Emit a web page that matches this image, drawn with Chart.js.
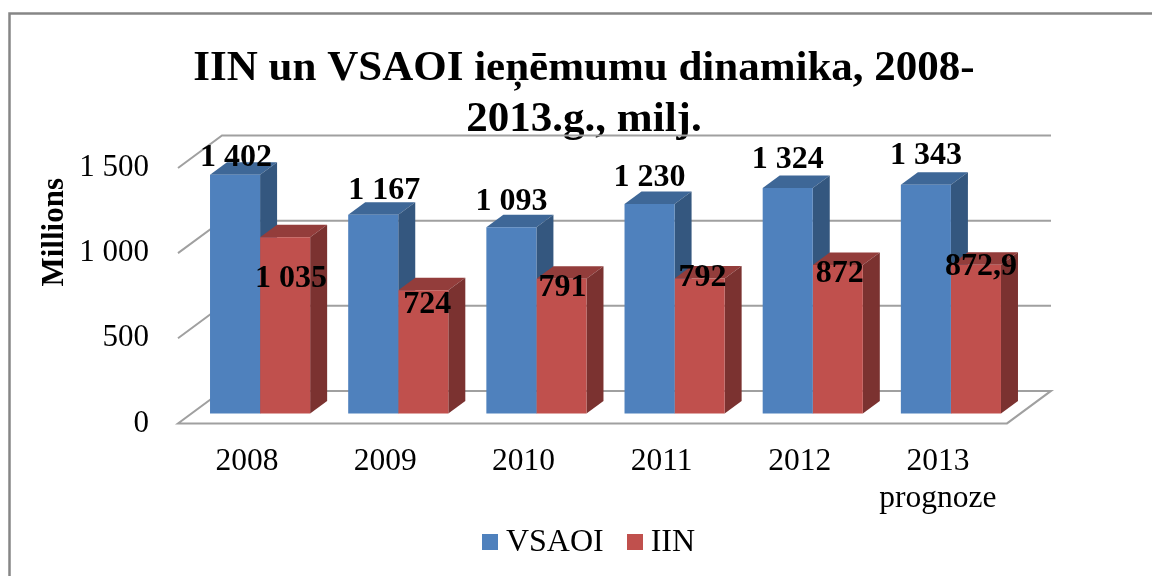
<!DOCTYPE html>
<html>
<head>
<meta charset="utf-8">
<style>html,body{margin:0;padding:0;background:#fff}canvas{display:block}</style>
<script src="https://cdn.jsdelivr.net/npm/chart.js@4"></script>
</head>
<body>
<canvas id="c" width="1152" height="576"></canvas>
<script>
const categories = ['2008', '2009', '2010', '2011', '2012', ['2013', 'prognoze']];
const vsaoi = [1402, 1167, 1093, 1230, 1324, 1343];
const iin = [1035, 724, 791, 792, 872, 872.9];
const titleLines = ['IIN un VSAOI ieņēmumu dinamika, 2008-', '2013.g., milj.'];

const SERIF = '"Liberation Serif"';
const COLORS = ['#4f81bd', '#c0504d'];
// Perspective of the 3D look, in pixels
const wall = {dx: 44, dy: -32.5};
const barShift = {dx: 13, dy: -10};
const barDepth = {dx: 17, dy: -12.5};
const faces = [
  {top: '#3e6797', side: '#34577f'},
  {top: '#933d3b', side: '#7b3230'}
];
// Manual label placement relative to the top centre of each bar's front face
const labelNudge = [
  [[1, -17], [11, -23.5], [0, -26], [0, -26], [0, -28], [0, -29]],
  [[6, 42], [4, 15], [1, 9], [3, -1], [2, 9], [5, 2]]
];

function fmt(v) {
  const s = String(v).replace('.', ',');
  const parts = s.split(',');
  const i = parts[0].length > 3 ? parts[0].slice(0, -3) + ' ' + parts[0].slice(-3) : parts[0];
  return parts[1] ? i + ',' + parts[1] : i;
}

function swatch(color) {
  const k = document.createElement('canvas');
  k.width = 16;
  k.height = 16;
  const x = k.getContext('2d');
  x.fillStyle = color;
  x.fillRect(0, 0, 16, 16);
  return k;
}
const swatches = COLORS.map(swatch);

const frame = {
  id: 'frame',
  beforeDraw(chart) {
    const c = chart.ctx;
    c.save();
    c.strokeStyle = '#868686';
    c.lineWidth = 2.5;
    c.beginPath();
    c.moveTo(9.5, 576);
    c.lineTo(9.5, 13.5);
    c.lineTo(1152, 13.5);
    c.stroke();
    c.restore();
  }
};

const walls = {
  id: 'walls',
  beforeDatasetsDraw(chart) {
    const c = chart.ctx, y = chart.scales.y, a = chart.chartArea;
    c.save();
    c.strokeStyle = '#a0a0a0';
    c.lineWidth = 2;
    y.ticks.forEach(t => {
      const py = y.getPixelForValue(t.value);
      c.beginPath();
      if (t.value === 0) {
        c.moveTo(a.left, py);
        c.lineTo(a.right, py);
        c.lineTo(a.right + wall.dx, py + wall.dy);
        c.lineTo(a.left + wall.dx, py + wall.dy);
        c.closePath();
      } else {
        c.moveTo(a.left, py);
        c.lineTo(a.left + wall.dx, py + wall.dy);
        c.lineTo(a.right + wall.dx, py + wall.dy);
      }
      c.stroke();
    });
    c.restore();
  }
};

const depth = {
  id: 'depth',
  beforeDatasetsDraw(chart) {
    const c = chart.ctx;
    c.save();
    c.translate(barShift.dx, barShift.dy);
    [0, 1].forEach(i => {
      const f = faces[i];
      chart.getDatasetMeta(i).data.forEach(b => {
        const l = b.x - b.width / 2, r = b.x + b.width / 2, t = b.y, bot = b.base;
        c.fillStyle = f.top;
        c.beginPath();
        c.moveTo(l, t);
        c.lineTo(l + barDepth.dx, t + barDepth.dy);
        c.lineTo(r + barDepth.dx, t + barDepth.dy);
        c.lineTo(r, t);
        c.closePath();
        c.fill();
        c.fillStyle = f.side;
        c.beginPath();
        c.moveTo(r, t);
        c.lineTo(r + barDepth.dx, t + barDepth.dy);
        c.lineTo(r + barDepth.dx, bot + barDepth.dy);
        c.lineTo(r, bot);
        c.closePath();
        c.fill();
      });
    });
    c.restore();
  },
  beforeDatasetDraw(chart) {
    chart.ctx.save();
    chart.ctx.translate(barShift.dx, barShift.dy);
  },
  afterDatasetDraw(chart) {
    chart.ctx.restore();
  },
  afterDatasetsDraw(chart) {
    const c = chart.ctx;
    c.save();
    c.fillStyle = '#000';
    c.font = 'bold 32px ' + SERIF;
    c.textAlign = 'center';
    c.textBaseline = 'middle';
    chart.data.datasets.forEach((ds, i) => {
      chart.getDatasetMeta(i).data.forEach((b, j) => {
        const n = labelNudge[i][j];
        c.fillText(fmt(ds.data[j]), b.x + barShift.dx + n[0], b.y + barShift.dy + n[1]);
      });
    });
    c.restore();
  }
};

const placement = {
  id: 'placement',
  afterLayout(chart) {
    const g = chart.legend, a = chart.chartArea;
    g.left = a.left;
    g.right = a.right;
    g.top = 495.3;
    g.bottom = g.top + g.height;
    chart.scales.x.bottom = 525;
    const s = chart.scales.y;
    if (s._wrapped) return;
    s._wrapped = true;
    const orig = s.drawTitle;
    s.drawTitle = function () {
      const c = this.ctx;
      c.save();
      c.translate(0, 10);
      orig.call(this);
      c.restore();
    };
  }
};

new Chart(document.getElementById('c'), {
  type: 'bar',
  data: {
    labels: categories,
    datasets: [
      {label: 'VSAOI', data: vsaoi, backgroundColor: COLORS[0], clip: false,
       categoryPercentage: 100 / 138, barPercentage: 1},
      {label: 'IIN', data: iin, backgroundColor: COLORS[1], clip: false,
       categoryPercentage: 100 / 138, barPercentage: 1}
    ]
  },
  plugins: [frame, walls, depth, placement],
  options: {
    responsive: false,
    animation: false,
    layout: {padding: {left: 16, right: 0, top: 0, bottom: 0}},
    plugins: {
      title: {
        display: true,
        text: titleLines,
        color: '#000',
        font: {family: SERIF, size: 43, weight: 'bold', lineHeight: 1.186},
        padding: {top: 43, bottom: 23}
      },
      legend: {
        position: 'bottom',
        fullSize: false,
        labels: {
          color: '#000',
          usePointStyle: true,
          pointStyleWidth: 0.01,
          boxHeight: 16,
          padding: 31,
          font: {family: SERIF, size: 32},
          generateLabels(chart) {
            return Chart.defaults.plugins.legend.labels.generateLabels(chart).map((it, i) => {
              it.pointStyle = swatches[i];
              return it;
            });
          }
        }
      },
      tooltip: {enabled: false}
    },
    scales: {
      x: {
        grid: {display: false, drawTicks: false},
        border: {display: false},
        afterFit(s) { s.height = 79.6; },
        ticks: {color: '#000', padding: 19, maxRotation: 0, font: {family: SERIF, size: 31.5, lineHeight: 1.2}}
      },
      y: {
        min: 0,
        max: 1500,
        grid: {display: false, drawTicks: false},
        border: {display: false},
        afterFit(s) { s.width = 162; },
        title: {
          display: true,
          text: 'Millions',
          color: '#000',
          align: 'end',
          padding: {top: 20, bottom: 0},
          font: {family: SERIF, size: 31, weight: 'bold'}
        },
        ticks: {
          color: '#000',
          padding: 29,
          stepSize: 500,
          callback: v => fmt(v),
          font: {family: SERIF, size: 31}
        }
      },
      pad: {
        type: 'linear',
        position: 'right',
        display: true,
        grid: {display: false, drawTicks: false},
        border: {display: false},
        ticks: {display: false},
        afterFit(s) { s.width = 145; }
      }
    }
  }
});
</script>
</body>
</html>
